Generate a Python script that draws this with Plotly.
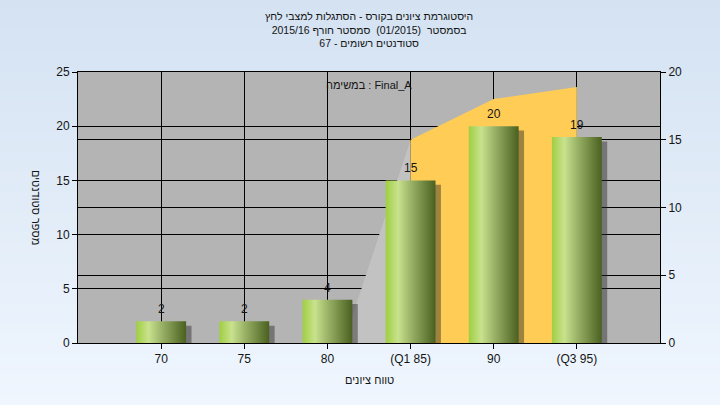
import plotly.graph_objects as go

# ---------------- data ----------------
categories = ["70", "75", "80", "(Q1 85)", "90", "(Q3 95)"]
students = [2, 2, 4, 15, 20, 19]            # left axis (bars)
grey_area_cats = ["80", "(Q1 85)"]
grey_area_vals = [-3.6, 15]                 # right axis, clipped at 0
yellow_area_cats = ["(Q1 85)", "90", "(Q3 95)"]
yellow_area_vals = [15, 18, 18.9]           # right axis

title_lines = [
    "היסטוגרמת ציונים בקורס - הסתגלות למצבי לחץ",
    "בסמסטר  (01/2015)  סמסטר חורף 2015/16",
    "סטודנטים רשומים - 67",
]
note_text = "במשימה : Final_A"
x_title = "טווח ציונים"
y_title = "מספר סטודנטים"

# --------------- styles ---------------
FONT = "Liberation Sans, Arial, sans-serif"
TXT = "#141414"
pos = {c: i + 1 for i, c in enumerate(categories)}
BAR_HALF = 0.3
W, H = 720, 405
ML, MR, MT, MB = 78, 60, 72, 62
plot_w = W - ML - MR
plot_h = H - MT - MB

fig = go.Figure()

# areas (right axis)
fig.add_trace(go.Scatter(
    x=[pos[c] for c in grey_area_cats], y=grey_area_vals, yaxis="y2",
    mode="none", fill="tozeroy", fillcolor="#C2C2C2", hoverinfo="skip",
    showlegend=False))
fig.add_trace(go.Scatter(
    x=[pos[c] for c in yellow_area_cats], y=yellow_area_vals, yaxis="y2",
    mode="none", fill="tozeroy", fillcolor="#FFCC55", hoverinfo="skip",
    showlegend=False))

# bars (on an overlay axis matching the left axis, so they sit above the areas)
for c, v in zip(categories, students):
    i = pos[c]
    dx, dy = 0.065, 0.4
    fig.add_trace(go.Scatter(
        x=[i - BAR_HALF + dx, i + BAR_HALF + dx, i + BAR_HALF + dx, i - BAR_HALF + dx, i - BAR_HALF + dx],
        y=[-1, -1, v - dy, v - dy, -1], yaxis="y3",
        mode="none", fill="toself", fillcolor="rgba(40,40,40,0.45)",
        hoverinfo="skip", showlegend=False))
for c, v in zip(categories, students):
    i = pos[c]
    fig.add_trace(go.Scatter(
        x=[i - BAR_HALF, i + BAR_HALF, i + BAR_HALF, i - BAR_HALF, i - BAR_HALF],
        y=[0, 0, v, v, 0], yaxis="y3",
        mode="none", fill="toself",
        fillgradient=dict(type="horizontal",
                          colorscale=[[0, "#9FCE42"], [0.25, "#C9E28E"],
                                      [0.5, "#9BB468"], [1, "#4A6020"]]),
        hoverinfo="skip", showlegend=False))

# value labels
for c, v in zip(categories, students):
    fig.add_annotation(x=pos[c], y=v, xref="x", yref="y", text=str(v),
                       showarrow=False, yanchor="bottom", yshift=3,
                       font=dict(family=FONT, size=12, color=TXT))

# background gradient bands (paper) + plot background
n = 40
top_rgb, bot_rgb = (212, 226, 242), (239, 246, 254)
y_lo = -MB / plot_h
y_hi = 1 + MT / plot_h
x_lo = -ML / plot_w
x_hi = 1 + MR / plot_w
shapes = []
for k in range(n):
    t = k / (n - 1)
    col = tuple(round(top_rgb[j] + (bot_rgb[j] - top_rgb[j]) * t) for j in range(3))
    y1 = y_hi - (y_hi - y_lo) * k / n
    y0 = y_hi - (y_hi - y_lo) * (k + 1) / n
    shapes.append(dict(type="rect", xref="paper", yref="paper",
                       x0=x_lo, x1=x_hi, y0=y0 - 0.002, y1=y1 + 0.002,
                       fillcolor="rgb(%d,%d,%d)" % col, line_width=0, layer="below"))
shapes.append(dict(type="rect", xref="paper", yref="paper", x0=0, x1=1, y0=0, y1=1,
                   fillcolor="#B4B4B4", line_width=0, layer="below"))

# titles and texts
fig.add_annotation(x=0.5, xref="paper", xanchor="center",
                   y=1 + (MT - 29.5) / plot_h, yref="paper", yanchor="middle",
                   text="<br>".join(title_lines), showarrow=False, borderpad=0,
                   font=dict(family=FONT, size=10.5, color=TXT))
fig.add_annotation(x=0.5, xref="paper", y=1 - (85 - MT) / plot_h, yref="paper",
                   yanchor="middle", text=note_text, showarrow=False,
                   font=dict(family=FONT, size=11, color=TXT))
fig.add_annotation(x=0.5, xref="paper", y=-(380 - (MT + plot_h)) / plot_h, yref="paper",
                   yanchor="middle", text=x_title, showarrow=False,
                   font=dict(family=FONT, size=11, color=TXT))
fig.add_annotation(x=-(ML - 36) / plot_w, xref="paper", y=(MT + plot_h - 207) / plot_h,
                   yref="paper", yanchor="middle", xanchor="center", textangle=90,
                   text=y_title, showarrow=False,
                   font=dict(family=FONT, size=11, color=TXT))

axis_font = dict(family=FONT, size=12, color=TXT)
common = dict(showgrid=True, gridcolor="#000", gridwidth=1, showline=True,
              linecolor="#000", linewidth=1, ticks="outside", ticklen=5,
              tickcolor="#000", tickfont=axis_font, zeroline=False, fixedrange=True)
fig.update_layout(
    width=W, height=H,
    margin=dict(l=ML, r=MR, t=MT, b=MB),
    paper_bgcolor="#E2ECF8", plot_bgcolor="#B4B4B4",
    shapes=shapes,
    xaxis=dict(range=[0, 7], tickmode="array", tickvals=[pos[c] for c in categories],
               ticktext=categories, mirror=True, **common),
    yaxis=dict(range=[0, 25], dtick=5, **common),
    yaxis2=dict(range=[0, 20], dtick=5, overlaying="y", side="right", **common),
    yaxis3=dict(range=[0, 25], overlaying="y", visible=False, fixedrange=True),
    showlegend=False,
)

post = """
(function () {
  var st = document.createElement('style');
  st.textContent = 'html, body { margin: 0 !important; padding: 0 !important; }';
  document.head.appendChild(st);
})();
"""
fig.write_html("out.html", post_script=post, config={"displayModeBar": False, "staticPlot": True})
